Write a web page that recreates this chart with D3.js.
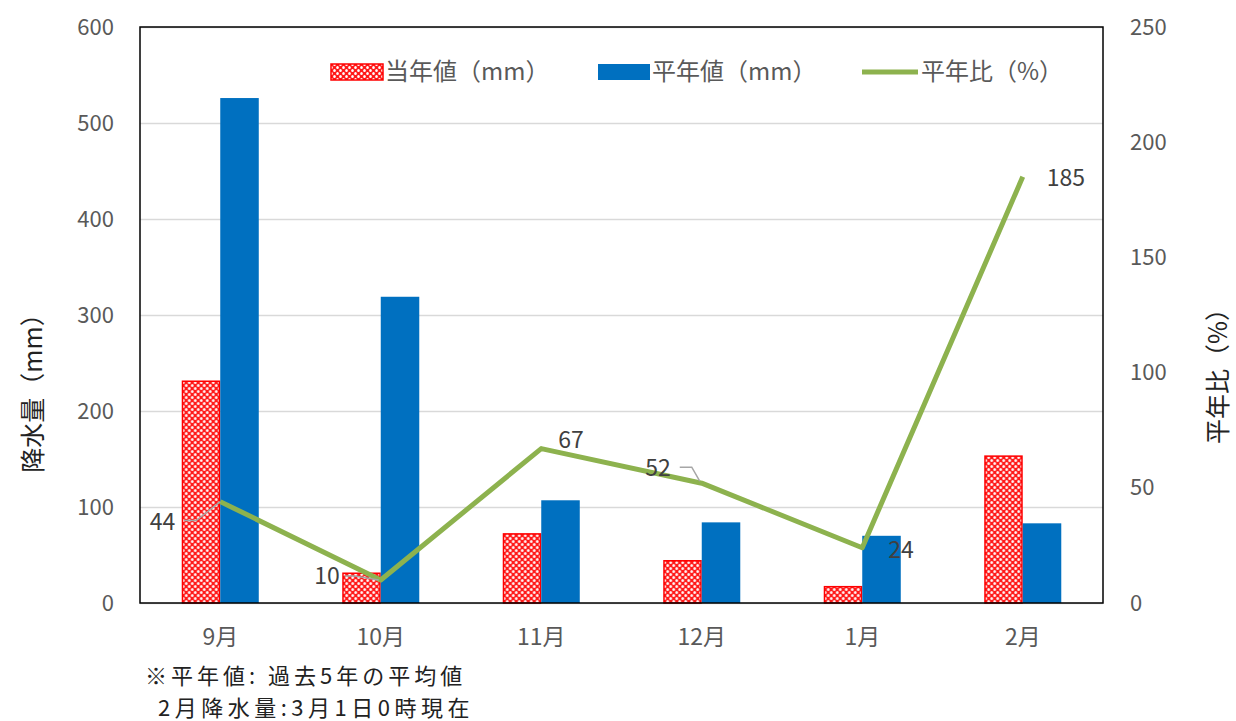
<!DOCTYPE html>
<html>
<head>
<meta charset="utf-8">
<script src="https://cdn.jsdelivr.net/npm/d3@7"></script>
<style>
  body { margin: 0; background: #fff; }
  text { font-family: "Noto Sans CJK JP", "Noto Sans", sans-serif; }
</style>
</head>
<body>
<div class="chart"></div>
<script>
// data
const months = ['9月', '10月', '11月', '12月', '1月', '2月'];
const thisYear = [231, 31, 72, 44, 17, 153];     // 当年値 (mm)
const normal = [526, 319, 107, 84, 70, 83];      // 平年値 (mm)
const ratio = [44, 10, 67, 52, 24, 185];         // 平年比 (%)
const leftTicks = [0, 100, 200, 300, 400, 500, 600];
const rightTicks = [0, 50, 100, 150, 200, 250];
const legendLabels = ['当年値（mm）', '平年値（mm）', '平年比（%）'];
const notes = ['※平年値: 過去5年の平均値', '2月降水量:3月1日0時現在'];

const W = 1236, H = 721;
const margin = {top: 27, left: 140, right: 133, bottom: 118};
const width = W - margin.left - margin.right;
const height = H - margin.top - margin.bottom;

const data = months.map((m, i) => ({month: m, cur: thisYear[i], avg: normal[i], ratio: ratio[i]}));

let root = d3.select('.chart').append('svg')
    .attr('width', W)
    .attr('height', H);

// hatched red fill
const pat = root.append('defs').append('pattern')
    .attr('id', 'lattice')
    .attr('patternUnits', 'userSpaceOnUse')
    .attr('width', 6)
    .attr('height', 6);
pat.append('rect').attr('width', 6).attr('height', 6).attr('fill', '#ff1a1a');
pat.append('ellipse').attr('cx', 1.5).attr('cy', 1.5).attr('rx', 1.3).attr('ry', 1.5).attr('fill', '#fff');
pat.append('ellipse').attr('cx', 4.5).attr('cy', 4.5).attr('rx', 1.3).attr('ry', 1.5).attr('fill', '#fff');

let svg = root.append('g')
    .attr('transform', `translate(${margin.left},${margin.top})`);

// scales
let xScale = d3.scaleBand()
    .domain(months)
    .range([0, width])
    .paddingInner(0.52)
    .paddingOuter(0.26);

let xSub = d3.scaleBand()
    .domain(['cur', 'avg'])
    .range([0, xScale.bandwidth()]);

let yLeft = d3.scaleLinear().domain([0, 600]).range([height, 0]);
let yRight = d3.scaleLinear().domain([0, 250]).range([height, 0]);

const cx = m => xScale(m) + xScale.bandwidth() / 2;
const numFont = '"Noto Sans", sans-serif';

// gridlines + left axis
svg.append('g')
    .attr('class', 'axis y-left')
    .call(d3.axisLeft(yLeft).tickValues(leftTicks).tickSize(0).tickPadding(26))
    .call(g => g.select('.domain').remove())
    .call(g => g.selectAll('.tick text').attr('font-size', 22).attr('fill', '#595959')
        .attr('font-family', numFont))
    .selectAll('.tick line')
    .attr('x2', width)
    .attr('stroke', '#d9d9d9')
    .attr('stroke-width', 1.5);

svg.append('g')
    .attr('class', 'axis y-right')
    .attr('transform', `translate(${width},0)`)
    .call(d3.axisRight(yRight).tickValues(rightTicks).tickSize(0).tickPadding(27))
    .call(g => g.select('.domain').remove())
    .call(g => g.selectAll('.tick text').attr('font-size', 22).attr('fill', '#595959')
        .attr('font-family', numFont));

svg.append('g')
    .attr('class', 'axis x-axis')
    .attr('transform', `translate(0,${height})`)
    .call(d3.axisBottom(xScale).tickSize(0).tickPadding(26))
    .call(g => g.select('.domain').remove())
    .selectAll('.tick text')
    .attr('font-size', 23)
    .attr('fill', '#595959');

// bars
let groups = svg.append('g')
    .selectAll('g')
    .data(data)
    .join('g')
    .attr('transform', d => `translate(${xScale(d.month)},0)`);

groups.append('rect')
    .attr('x', xSub('cur') + 0.75)
    .attr('y', d => yLeft(d.cur))
    .attr('width', xSub.bandwidth() - 1.5)
    .attr('height', d => height - yLeft(d.cur))
    .attr('fill', 'url(#lattice)')
    .attr('stroke', '#ff0000')
    .attr('stroke-width', 1.5);

groups.append('rect')
    .attr('x', xSub('avg'))
    .attr('y', d => yLeft(d.avg))
    .attr('width', xSub.bandwidth())
    .attr('height', d => height - yLeft(d.avg))
    .attr('fill', '#0070c0');

// frame
svg.append('rect')
    .attr('width', width)
    .attr('height', height)
    .attr('fill', 'none')
    .attr('stroke', '#000')
    .attr('stroke-width', 1.5);

// ratio line
const line = d3.line()
    .x(d => cx(d.month))
    .y(d => yRight(d.ratio));

svg.append('path')
    .datum(data)
    .attr('fill', 'none')
    .attr('stroke', '#8db24e')
    .attr('stroke-width', 5)
    .attr('stroke-linejoin', 'round')
    .attr('d', line);

// data labels: offset from point, optional leader line
const labelPos = [
    {dx: -45, dy: 20, anchor: 'end', leader: [[-36, 19], [-24, 19], [0, 0]]},
    {dx: -41, dy: -4, anchor: 'end', leader: [[-36, -4], [-26, -4], [-2, 0]]},
    {dx: 17, dy: -9, anchor: 'start'},
    {dx: -31, dy: -15, anchor: 'end', leader: [[-22, -16], [-10, -16], [-2, -2]]},
    {dx: 26, dy: 2, anchor: 'start'},
    {dx: 24, dy: 1, anchor: 'start'}
];

let labels = svg.append('g');
data.forEach((d, i) => {
    const p = labelPos[i];
    const x0 = cx(d.month), y0 = yRight(d.ratio);
    if (p.leader) {
        labels.append('path')
            .attr('d', d3.line()(p.leader.map(q => [x0 + q[0], y0 + q[1]])))
            .attr('fill', 'none')
            .attr('stroke', '#a6a6a6')
            .attr('stroke-width', 1.5);
    }
    labels.append('text')
        .attr('x', x0 + p.dx)
        .attr('y', y0 + p.dy)
        .attr('dy', '0.35em')
        .attr('text-anchor', p.anchor)
        .attr('font-size', 23)
        .attr('font-family', numFont)
        .attr('fill', '#404040')
        .text(d.ratio);
});

// legend
let legend = root.append('g').attr('transform', 'translate(0,72)');
const legendX = [331, 598, 862];
legend.append('rect')
    .attr('x', legendX[0]).attr('y', -8).attr('width', 52).attr('height', 16)
    .attr('fill', 'url(#lattice)').attr('stroke', '#ff0000').attr('stroke-width', 1.5);
legend.append('rect')
    .attr('x', legendX[1]).attr('y', -8).attr('width', 52).attr('height', 16)
    .attr('fill', '#0070c0');
legend.append('line')
    .attr('x1', legendX[2]).attr('x2', legendX[2] + 56)
    .attr('stroke', '#8db24e').attr('stroke-width', 5);
legendLabels.forEach((t, i) => {
    legend.append('text')
        .attr('x', legendX[i] + (i === 2 ? 59 : 54))
        .attr('dy', '0.35em')
        .attr('font-size', 24)
        .attr('fill', '#595959')
        .text(t);
});

// axis titles
root.append('text')
    .attr('transform', 'translate(33,387) rotate(-90)')
    .attr('text-anchor', 'middle')
    .attr('dy', '0.35em')
    .attr('font-size', 25)
    .attr('fill', '#222')
    .text('降水量（mm）');

root.append('text')
    .attr('transform', 'translate(1218,370) rotate(-90)')
    .attr('text-anchor', 'middle')
    .attr('dy', '0.35em')
    .attr('font-size', 25)
    .attr('fill', '#222')
    .text('平年比（%）');

// notes
root.append('text')
    .attr('x', 145).attr('y', 684)
    .attr('font-size', 22).attr('letter-spacing', 4).attr('fill', '#222')
    .text(notes[0]);
root.append('text')
    .attr('x', 158).attr('y', 716)
    .attr('font-size', 22).attr('letter-spacing', 4.5).attr('fill', '#222')
    .text(notes[1]);
</script>
</body>
</html>
